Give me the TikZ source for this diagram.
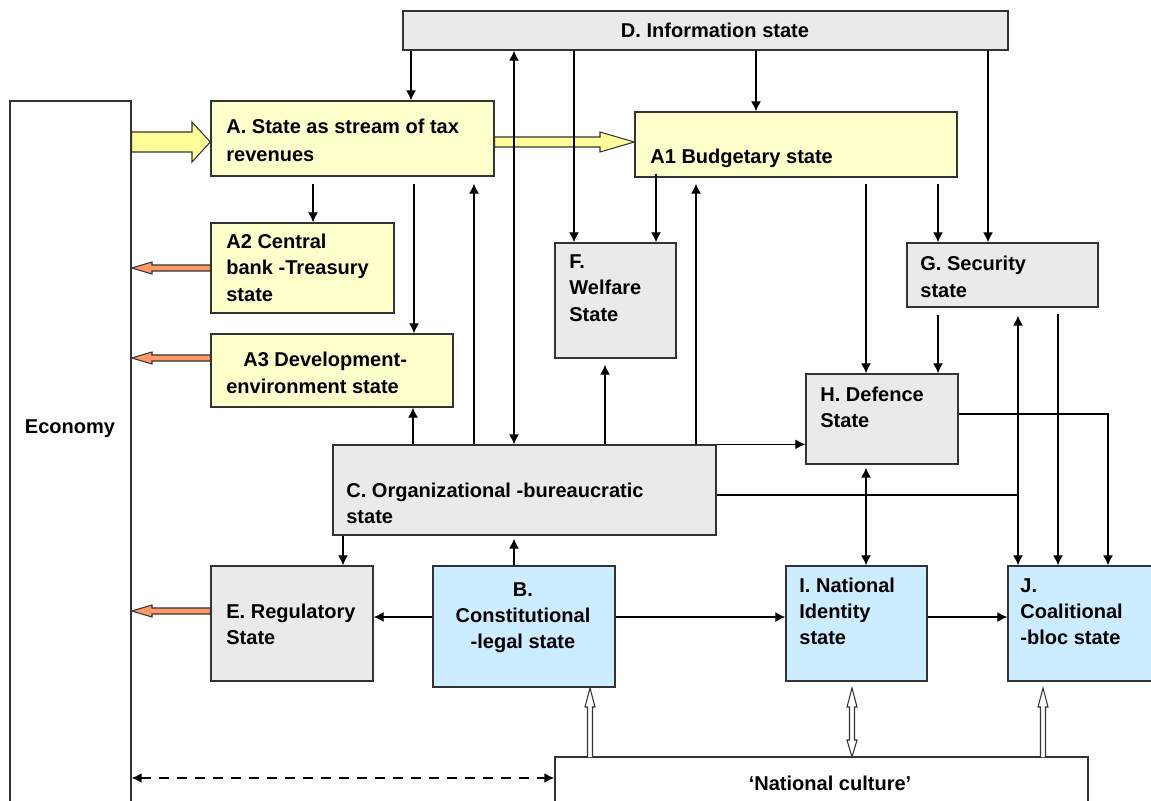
\documentclass[tikz,border=0pt]{standalone}
\usepackage{fontspec}
\setmainfont{Liberation Sans}
\usetikzlibrary{arrows.meta, fit}

\definecolor{boxyellow}{RGB}{255,255,204}
\definecolor{boxgray}{RGB}{234,234,234}
\definecolor{boxblue}{RGB}{204,236,255}
\definecolor{arryellow}{RGB}{255,255,153}
\definecolor{arrorange}{RGB}{255,153,102}

\begin{document}
\begin{tikzpicture}[x=0.02cm, y=-0.02cm,
  every node/.style={font=\fontsize{11.4}{14.8}\selectfont\bfseries},
  box/.style={draw=black!80, line width=0.8pt, inner sep=0pt},
  ybox/.style={box, fill=boxyellow},
  gbox/.style={box, fill=boxgray},
  bbox/.style={box, fill=boxblue},
  txt/.style={inner sep=0pt, align=left},
  fat/.style={draw=black!80, line width=0.6pt},
  link/.style={line width=0.7pt},
  con/.style={link, -{Latex[length=5.7pt, width=5.7pt]}},
  conboth/.style={link, {Latex[length=5.7pt, width=5.7pt]}-{Latex[length=5.7pt, width=5.7pt]}}]
  \clip (0,0) rectangle (1151,800);
  % boxes
  \node[box, fill=white, fit={(10,101) (131,830)}] (Eco) {};
  \node[gbox, fit={(403,11) (1008,50)}] (D) {};
  \node[ybox, fit={(211,101) (494,176)}] (A) {};
  \node[ybox, fit={(635,112) (957,177)}] (A1) {};
  \node[ybox, fit={(211,223) (394,313)}] (A2) {};
  \node[ybox, fit={(211,334) (453,407)}] (A3) {};
  \node[gbox, fit={(555,243) (676,358)}] (F) {};
  \node[gbox, fit={(907,243) (1098,307)}] (G) {};
  \node[gbox, fit={(806,374) (958,464)}] (H) {};
  \node[gbox, fit={(333,445) (716,535)}] (C) {};
  \node[gbox, fit={(211,566) (373,681)}] (E) {};
  \node[bbox, fit={(433,566) (615,687)}] (B) {};
  \node[bbox, fit={(786,566) (927,681)}] (I) {};
  \node[bbox, fit={(1008,566) (1170,681)}] (J) {};
  \node[box, fill=white, fit={(555,757) (1088,830)}] (NC) {};
  % revenue flows
  \filldraw[fat, fill=arryellow] (Eco.east |- 0,132) -- (192,132) -- (192,122) -- (A.west |- 0,142)
      -- (192,162) -- (192,152) -- (Eco.east |- 0,152) -- cycle;
  \filldraw[fat, fill=arryellow] (A.east |- 0,137) -- (600,137) -- (600,132) -- (A1.west |- 0,142)
      -- (600,152) -- (600,147) -- (A.east |- 0,147) -- cycle;
  % outflows to the economy
  \filldraw[fat, fill=arrorange] (A2.west |- 0,265) -- (152,265) -- (152,262) -- (Eco.east |- 0,268)
      -- (152,274) -- (152,271) -- (A2.west |- 0,271) -- cycle;
  \filldraw[fat, fill=arrorange] (A3.west |- 0,355) -- (152,355) -- (152,352) -- (Eco.east |- 0,358)
      -- (152,364) -- (152,361) -- (A3.west |- 0,361) -- cycle;
  \filldraw[fat, fill=arrorange] (E.west |- 0,608) -- (152,608) -- (152,605) -- (Eco.east |- 0,611)
      -- (152,617) -- (152,614) -- (E.west |- 0,614) -- cycle;
  % national culture
  \filldraw[fat, fill=white] (587.5,757) -- (587.5,707) -- (585,707) -- (590,688) -- (595,707)
      -- (592.5,707) -- (592.5,757);
  \filldraw[fat, fill=white] (849.5,740) -- (849.5,707) -- (847,707) -- (852,688) -- (857,707)
      -- (854.5,707) -- (854.5,740) -- (857,740) -- (852,757) -- (847,740) -- cycle;
  \filldraw[fat, fill=white] (1040.5,757) -- (1040.5,707) -- (1038,707) -- (1043,688) -- (1048,707)
      -- (1045.5,707) -- (1045.5,757);
  \draw[link, line width=0.9pt, dash pattern=on 0.2cm off 0.16cm,
      {Latex[length=5.7pt, width=5.7pt]}-{Latex[length=5.7pt, width=5.7pt]}]
      (Eco.east |- 0,778) -- (NC.west |- 0,778);
  % from the information state
  \draw[con] (411,0 |- D.south) -- (411,0 |- A.north);
  \draw[conboth] (514,0 |- D.south) -- (514,0 |- C.north);
  \draw[con] (574,0 |- D.south) -- (574,0 |- F.north);
  \draw[con] (756,0 |- D.south) -- (756,0 |- A1.north);
  \draw[con] (988,0 |- D.south) -- (988,0 |- G.north);
  % tax and budget
  \draw[con, shorten <=0.14cm] (313,0 |- A.south) -- (313,0 |- A2.north);
  \draw[con, shorten <=0.14cm] (414,0 |- A.south) -- (414,0 |- A3.north);
  \draw[con, shorten <=-0.08cm] (656,0 |- A1.south) -- (656,0 |- F.north);
  \draw[con, shorten <=0.12cm] (866,0 |- A1.south) -- (866,0 |- H.north);
  \draw[con, shorten <=0.12cm] (938,0 |- A1.south) -- (938,0 |- G.north);
  % organizational state
  \draw[con] (413,0 |- C.north) -- (413,0 |- A3.south);
  \draw[con, shorten >=0.14cm] (474,0 |- C.north) -- (474,0 |- A.south);
  \draw[con, shorten >=0.12cm] (605,0 |- C.north) -- (605,0 |- F.south);
  \draw[con, shorten >=0.12cm] (696,0 |- C.north) -- (696,0 |- A1.south);
  \draw[con] (C.north east) -- (H.west |- C.north east);
  \draw[link] (C.east |- 0,495) -- (1018,495);
  \draw[con] (343,0 |- C.south) -- (343,0 |- E.north);
  % security, defence, coalitions
  \draw[con, shorten <=0.14cm] (938,0 |- G.south) -- (938,0 |- H.north);
  \draw[conboth, shorten <=0.16cm] (1018,0 |- G.south) -- (1018,0 |- J.north);
  \draw[con, shorten <=0.12cm] (1058,0 |- G.south) -- (1058,0 |- J.north);
  \draw[con] (H.east |- 0,414) -| (1108,0 |- J.north);
  \draw[conboth, shorten <=0.06cm] (866,0 |- H.south) -- (866,0 |- I.north);
  % constitutional-legal state
  \draw[con, shorten >=0.06cm] (514,0 |- B.north) -- (514,0 |- C.south);
  \draw[con] (B.west |- 0,617) -- (E.east |- 0,617);
  \draw[con] (B.east |- 0,617) -- (I.west |- 0,617);
  \draw[con] (I.east |- 0,617) -- (J.west |- 0,617);
  % labels (base = last line)
  \node[txt, anchor=base] (tEco) at (70,433) {Economy};
  \node[txt, anchor=base] (tD) at (715,38) {D. Information state};
  \node[txt, anchor=base west] (tA) at (226,162) {A. State as stream of tax\\[1.7pt]revenues};
  \node[txt, anchor=base west] (tA1) at (650,164) {A1 Budgetary state};
  \node[txt, anchor=base west] (tA2) at (226,301) {A2 Central\\bank -Treasury\\state};
  \node[txt, anchor=base west] (tA3) at (226,393) {\hspace*{0.34cm}A3 Development-\\environment state};
  \node[txt, anchor=base west] (tF) at (569,321) {F.\\Welfare\\State};
  \node[txt, anchor=base west] (tG) at (920,297) {G. Security\\state};
  \node[txt, anchor=base west] (tH) at (820,427) {H. Defence\\State};
  \node[txt, anchor=base west] (tC) at (346,523) {C. Organizational -bureaucratic\\state};
  \node[txt, anchor=base west] (tE) at (226,644) {E. Regulatory\\State};
  \node[txt, anchor=base, align=center] (tB) at (523,648) {B.\\Constitutional\\-legal state};
  \node[txt, anchor=base west] (tI) at (799,644) {I. National\\Identity\\state};
  \node[txt, anchor=base west] (tJ) at (1020,644) {J.\\Coalitional\\-bloc state};
  \node[txt, anchor=base] (tNC) at (830,790) {‘National culture’};
\end{tikzpicture}
\end{document}
